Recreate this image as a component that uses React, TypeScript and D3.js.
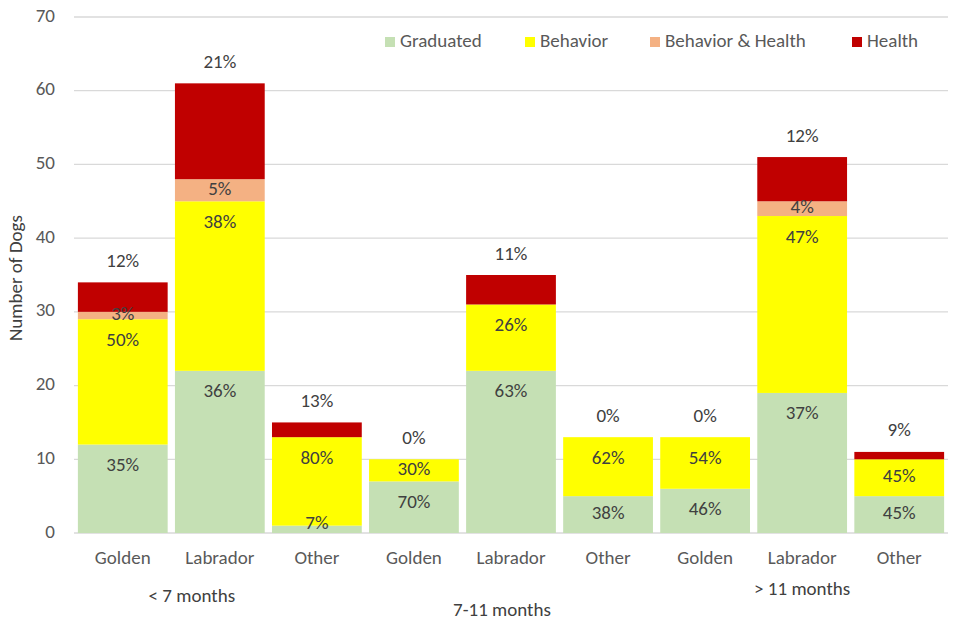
import React, { useEffect, useRef } from 'react';
import * as d3 from 'd3';

const breeds = ['Golden', 'Labrador', 'Other', 'Golden', 'Labrador', 'Other', 'Golden', 'Labrador', 'Other'];
const ageGroups = ['< 7 months', '7-11 months', '> 11 months'];

const graduated = [12, 22, 1, 7, 22, 5, 6, 19, 5];
const behavior = [17, 23, 12, 3, 9, 8, 7, 24, 5];
const behaviorHealth = [1, 3, 0, 0, 0, 0, 0, 2, 0];
const health = [4, 13, 2, 0, 4, 0, 0, 6, 1];

const seriesNames = ['Graduated', 'Behavior', 'Behavior & Health', 'Health'];
const seriesColors = ['#c5e0b4', '#ffff00', '#f4b183', '#c00000'];

const yTicks = [0, 10, 20, 30, 40, 50, 60, 70];

const width = 957;
const height = 624;
const margin = { top: 17, right: 9, bottom: 91, left: 74 };
const font = 'Carlito, Calibri, Lato, sans-serif';
const fontSize = '19px';

// where the age group captions sit (column index they hang under, x nudge, y)
const groupLabelPos = [
  { col: 1, dx: -28, y: 602 },
  { col: 4, dx: -9, y: 616 },
  { col: 7, dx: 0, y: 595 },
];

function App() {
  const ref = useRef<SVGSVGElement>(null);

  useEffect(() => {
    if (!ref.current) return;
    const svg = d3.select(ref.current);
    svg.selectAll('*').remove();

    const innerW = width - margin.left - margin.right;
    const innerH = height - margin.top - margin.bottom;
    const idx = breeds.map((_, i) => i);

    const x = d3.scaleBand<number>().domain(idx).range([0, innerW]).paddingInner(0.075).paddingOuter(0.04);
    const y = d3.scaleLinear().domain([0, 70]).range([innerH, 0]);

    const g = svg.append('g').attr('transform', `translate(${margin.left},${margin.top})`);

    // gridlines
    g.selectAll('.grid')
      .data(yTicks)
      .enter()
      .append('line')
      .attr('x1', 0)
      .attr('x2', innerW)
      .attr('y1', d => y(d))
      .attr('y2', d => y(d))
      .style('stroke', '#d9d9d9')
      .style('stroke-width', 1.3);

    // y tick labels
    g.selectAll('.ytick')
      .data(yTicks)
      .enter()
      .append('text')
      .attr('x', -19)
      .attr('y', d => y(d))
      .attr('text-anchor', 'end')
      .attr('dominant-baseline', 'middle')
      .style('font-family', font)
      .style('font-size', fontSize)
      .style('fill', '#595959')
      .text(d => d);

    const rows = idx.map(i => ({
      i,
      Graduated: graduated[i],
      Behavior: behavior[i],
      'Behavior & Health': behaviorHealth[i],
      Health: health[i],
    }));
    const stacked = d3.stack<any>().keys(seriesNames)(rows);
    const totals = idx.map(i => graduated[i] + behavior[i] + behaviorHealth[i] + health[i]);

    const barG = g.append('g');
    const labelG = g.append('g');

    stacked.forEach((layer, s) => {
      const segs = layer.filter(d => d[1] - d[0] > 0);
      barG.append('g').selectAll('rect')
        .data(segs)
        .enter()
        .append('rect')
        .attr('x', d => x(d.data.i)!)
        .attr('width', x.bandwidth())
        .attr('y', d => y(d[1]))
        .attr('height', d => y(d[0]) - y(d[1]))
        .attr('fill', seriesColors[s]);

      if (seriesNames[s] === 'Health') return;

      labelG.append('g').selectAll('text')
        .data(segs)
        .enter()
        .append('text')
        .attr('x', d => x(d.data.i)! + x.bandwidth() / 2)
        .attr('y', d => {
          const top = y(d[1]);
          const h = y(d[0]) - top;
          if (seriesNames[s] === 'Behavior & Health' || h < 40) return Math.min(top + h / 2, innerH - 9);
          return top + 22;
        })
        .attr('text-anchor', 'middle')
        .attr('dominant-baseline', 'middle')
        .style('font-family', font)
        .style('font-size', fontSize)
        .style('fill', '#404040')
        .text(d => `${Math.round(((d[1] - d[0]) / totals[d.data.i]) * 100)}%`);
    });

    // health share above each bar
    labelG.selectAll('.healthLabel')
      .data(idx)
      .enter()
      .append('text')
      .attr('x', i => x(i)! + x.bandwidth() / 2)
      .attr('y', i => y(totals[i]) - 20)
      .attr('text-anchor', 'middle')
      .attr('dominant-baseline', 'middle')
      .style('font-family', font)
      .style('font-size', fontSize)
      .style('fill', '#404040')
      .text(i => `${Math.round((health[i] / totals[i]) * 100)}%`);

    // breed labels
    g.selectAll('.xlabel')
      .data(idx)
      .enter()
      .append('text')
      .attr('x', i => x(i)! + x.bandwidth() / 2)
      .attr('y', innerH + 26)
      .attr('text-anchor', 'middle')
      .attr('dominant-baseline', 'middle')
      .style('font-family', font)
      .style('font-size', fontSize)
      .style('fill', '#595959')
      .text(i => breeds[i]);

    // age group captions
    svg.selectAll('.group')
      .data(ageGroups)
      .enter()
      .append('text')
      .attr('x', (_, k) => margin.left + x(groupLabelPos[k].col)! + x.bandwidth() / 2 + groupLabelPos[k].dx)
      .attr('y', (_, k) => groupLabelPos[k].y)
      .attr('text-anchor', 'middle')
      .style('font-family', font)
      .style('font-size', fontSize)
      .style('fill', '#404040')
      .text(d => d);

    // y axis title
    svg.append('text')
      .attr('transform', `translate(22, 278) rotate(-90)`)
      .attr('text-anchor', 'middle')
      .style('font-family', font)
      .style('font-size', fontSize)
      .style('fill', '#404040')
      .text('Number of Dogs');

    // legend
    const legendX = [385, 525, 650, 852];
    const legend = svg.selectAll('.legend')
      .data(seriesNames)
      .enter()
      .append('g')
      .attr('transform', (_, k) => `translate(${legendX[k]}, 42)`);
    legend.append('rect')
      .attr('x', 0)
      .attr('y', -5)
      .attr('width', 10)
      .attr('height', 10)
      .attr('fill', (_, k) => seriesColors[k]);
    legend.append('text')
      .attr('x', 15)
      .attr('y', 0)
      .attr('dominant-baseline', 'middle')
      .style('font-family', font)
      .style('font-size', fontSize)
      .style('fill', '#595959')
      .text(d => d);
  }, []);

  return (
    <svg
      ref={ref}
      width={width}
      height={height}
      style={{ position: 'absolute', left: 0, top: 0, background: '#fff' }}
    ></svg>
  );
}

export default App;
